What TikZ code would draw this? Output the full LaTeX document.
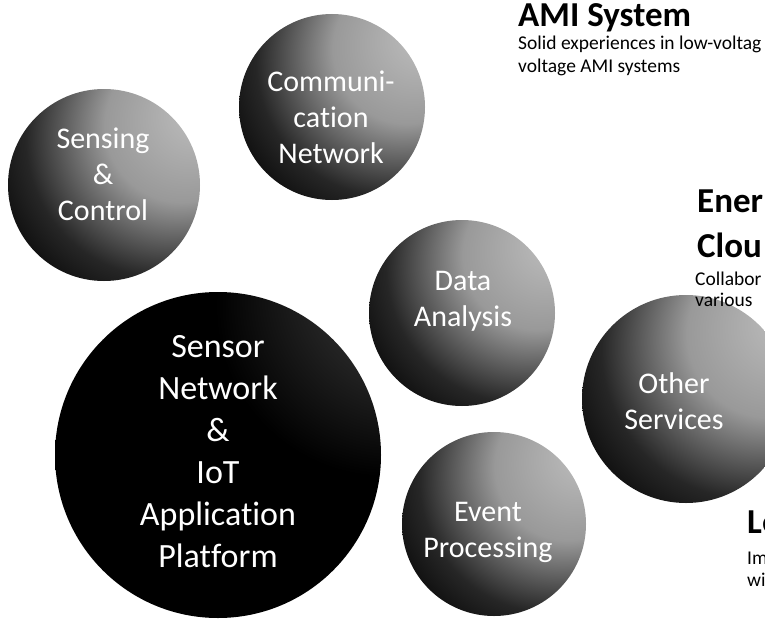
\documentclass[tikz,border=0pt]{standalone}
\usepackage{fontspec}
\setmainfont{Carlito}[Ligatures=NoCommon]
\pgfdeclareradialshading{orbshade}{\pgfpoint{26bp}{20bp}}{%
  color(0bp)=(black!25); color(20bp)=(black!40); color(36bp)=(black!85);
  color(48bp)=(black); color(90bp)=(black)}
\pgfdeclareradialshading{orbdark}{\pgfpoint{36bp}{32bp}}{%
  color(0bp)=(black!55); color(12bp)=(black!82); color(26bp)=(black);
  color(90bp)=(black)}

\begin{document}
\begin{tikzpicture}[x=1pt, y=-1pt,
  orb/.style={circle, inner sep=0pt, shade, shading=orbshade},
  orbtext/.style={text=white, align=center, font=\fontsize{30}{36}\selectfont},
  head/.style={anchor=base west, inner sep=0pt, font=\fontsize{35}{40}\selectfont\bfseries},
  desc/.style={anchor=base west, inner sep=0pt, font=\fontsize{19.5}{23}\selectfont}]
  \useasboundingbox (0,0) rectangle (765,626);
  \clip (0,0) rectangle (765,626);
  % shaded spheres
  \foreach \name/\x/\y/\d in {sensing/104/185/192, comm/332/107/186, data/462/313/186, event/494/524/184, other/686/399/208} {
    \node[orb, minimum size=\d pt] (\name) at (\x,\y) {};
  }
  \node[orb, shading=orbdark, minimum size=326pt] (platform) at (218,455) {};
  % sphere labels
  \node[orbtext] (sensingtxt) at (103,174) {Sensing\\\&\\Control};
  \node[orbtext] (commtxt) at (331,117) {Communi-\\cation\\Network};
  \node[orbtext] (datatxt) at (463,301) {Data\\Analysis};
  \node[orbtext] (eventtxt) at (488,532) {Event\\Processing};
  \node[orbtext] (othertxt) at (674,401) {Other\\Services};
  \node[orbtext, font=\fontsize{34}{42}\selectfont] (platformtxt) at (218,452)
    {Sensor\\Network\\\&\\IoT\\Application\\Platform};
  % headings and notes, cut at the right edge
  \node[head] (ami) at (518,27) {AMI System};
  \node[desc] (amidesc1) at (518,50) {Solid experiences in low-voltag};
  \node[desc] (amidesc2) at (518,73) {voltage AMI systems};
  \node[head] (energy1) at (697,212) {Ener};
  \node[head] (energy2) at (697,257) {Clou};
  \node[desc] (energydesc1) at (695,285) {Collabor};
  \node[desc] (energydesc2) at (695,306) {various};
  \node[head] (low) at (747,533) {Le};
  \node[desc] (lowdesc1) at (747,564) {Im};
  \node[desc] (lowdesc2) at (747,586) {wi};
\end{tikzpicture}
\end{document}
